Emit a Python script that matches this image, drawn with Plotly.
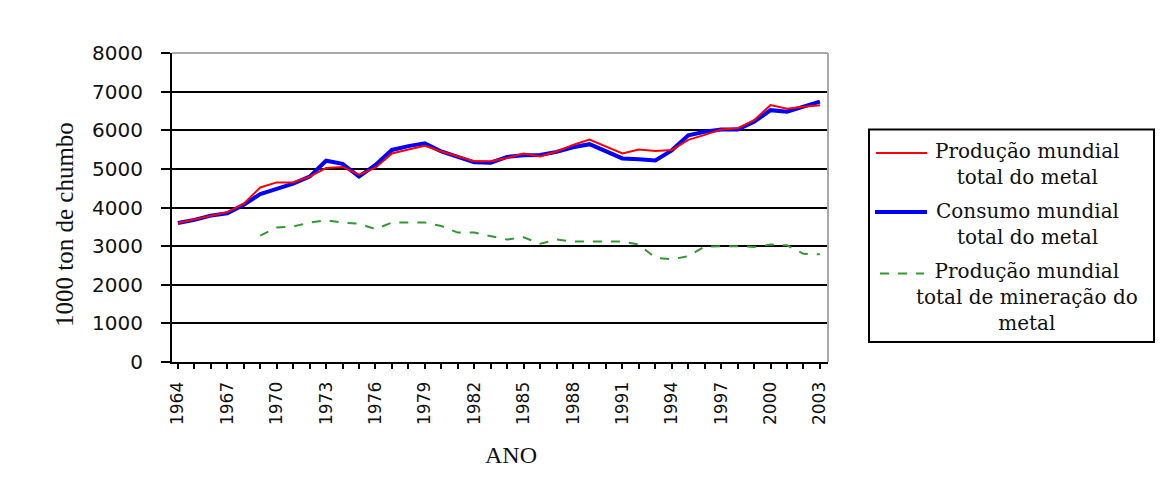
import plotly.graph_objects as go

years = list(range(1964, 2004))
producao_metal = [3600, 3700, 3800, 3880, 4100, 4520, 4650, 4650, 4800, 5020,
                  5050, 4850, 5030, 5400, 5500, 5600, 5450, 5330, 5200, 5200,
                  5280, 5400, 5320, 5450, 5620, 5760, 5580, 5400, 5500, 5460,
                  5490, 5750, 5880, 6020, 6050, 6260, 6650, 6560, 6610, 6650]
consumo_metal = [3600, 3680, 3790, 3850, 4070, 4350, 4480, 4620, 4800, 5210,
                 5130, 4800, 5100, 5490, 5590, 5660, 5450, 5320, 5170, 5160,
                 5310, 5350, 5360, 5440, 5560, 5640, 5450, 5270, 5250, 5220,
                 5480, 5870, 5960, 6020, 6020, 6220, 6520, 6480, 6610, 6740]
producao_mineracao = [None, None, None, None, None, 3270, 3480, 3510, 3610, 3670,
                      3610, 3580, 3440, 3610, 3610, 3610, 3520, 3350, 3350, 3260,
                      3170, 3230, 3060, 3170, 3120, 3120, 3120, 3120, 3040, 2700,
                      2660, 2740, 2990, 3000, 3000, 2980, 3040, 3020, 2800, 2790]
tick_years = list(range(1964, 2004, 3))
y_ticks = list(range(0, 9000, 1000))

legend_labels = [
    ["Produção mundial", "total do metal"],
    ["Consumo mundial", "total do metal"],
    ["Produção mundial", "total de mineração do", "metal"],
]

# page size and body offset of the html page
PW, PH = 1164, 479
OFF = 8
W, H = PW - 2 * OFF, PH - 2 * OFF
# plot area in page pixels
L, R, T, B = 172, 828, 53, 362


def px(x):
    return (x - L) / (R - L)


def py(y):
    return (B - y) / (B - T)


fig = go.Figure()
fig.add_trace(go.Scatter(x=years, y=producao_mineracao, mode="lines",
                         line=dict(color="#2f9a2f", width=2, dash="dash"),
                         connectgaps=False, showlegend=False))
fig.add_trace(go.Scatter(x=years, y=consumo_metal, mode="lines",
                         line=dict(color="#0000ff", width=4), showlegend=False))
fig.add_trace(go.Scatter(x=years, y=producao_metal, mode="lines",
                         line=dict(color="#ff0000", width=2), showlegend=False))

shapes = [
    dict(type="line", xref="paper", yref="paper", x0=0, x1=1, y0=1, y1=1,
         line=dict(color="#a8a8a8", width=2), layer="above"),
    dict(type="line", xref="paper", yref="paper", x0=1, x1=1, y0=0, y1=1,
         line=dict(color="#a8a8a8", width=2), layer="above"),
    dict(type="rect", xref="paper", yref="paper", x0=px(869), x1=px(1154),
         y0=py(342), y1=py(129.5), line=dict(color="#000000", width=2),
         fillcolor="rgba(0,0,0,0)"),
    dict(type="line", xref="paper", yref="paper", x0=px(876), x1=px(927),
         y0=py(153), y1=py(153), line=dict(color="#ff0000", width=2)),
    dict(type="line", xref="paper", yref="paper", x0=px(875), x1=px(927),
         y0=py(212), y1=py(212), line=dict(color="#0000ff", width=4)),
    dict(type="line", xref="paper", yref="paper", x0=px(880), x1=px(924),
         y0=py(273.5), y1=py(273.5), line=dict(color="#2f9a2f", width=2, dash="dash")),
]

annotations = []
legend_pos = [(1027, 164), (1027, 223.5), (1027, 297)]
for labels, (ax, ay) in zip(legend_labels, legend_pos):
    annotations.append(dict(text="<br>".join(labels), xref="paper", yref="paper",
                            x=px(ax), y=py(ay), align="center",
                            xanchor="center", yanchor="middle", showarrow=False,
                            font=dict(family="DejaVu Serif", size=20, color="#111111")))

annotations.append(dict(text="1000 ton de chumbo", xref="paper", yref="paper",
                        x=px(64), y=py(225), textangle=-90, showarrow=False,
                        xanchor="center", yanchor="middle",
                        font=dict(family="Liberation Serif", size=25, color="#111111")))
annotations.append(dict(text="ANO", xref="paper", yref="paper",
                        x=px(511), y=py(455), showarrow=False,
                        xanchor="center", yanchor="middle",
                        font=dict(family="Liberation Serif", size=24, color="#111111")))

fig.update_layout(
    width=W, height=H,
    margin=dict(l=L - OFF, r=PW - OFF - R, t=T - OFF, b=PH - OFF - B, pad=0),
    paper_bgcolor="white", plot_bgcolor="white",
    shapes=shapes, annotations=annotations,
    xaxis=dict(range=[1963.64, 2003.49], tickvals=tick_years,
               ticktext=[str(y) for y in tick_years], tickangle=-90,
               tickfont=dict(family="DejaVu Sans", size=17, color="#111111"),
               showgrid=False, zeroline=False, showline=True, linecolor="#000000",
               linewidth=2, ticks="outside", ticklen=5, tickcolor="#000000", tickwidth=2,
               minor=dict(tickvals=years, ticks="outside", ticklen=5,
                          tickcolor="#000000", tickwidth=2, showgrid=False),
               ticklabelstandoff=6),
    yaxis=dict(range=[0, 8000], tickvals=y_ticks, ticktext=[str(v) for v in y_ticks],
               tickfont=dict(family="DejaVu Sans", size=20, color="#111111"),
               showgrid=True, gridcolor="#000000", gridwidth=2, zeroline=False,
               showline=True, linecolor="#000000", linewidth=2,
               ticks="outside", ticklen=9, tickcolor="#000000", tickwidth=2,
               ticklabelstandoff=14),
)

fig.write_html("out.html")
